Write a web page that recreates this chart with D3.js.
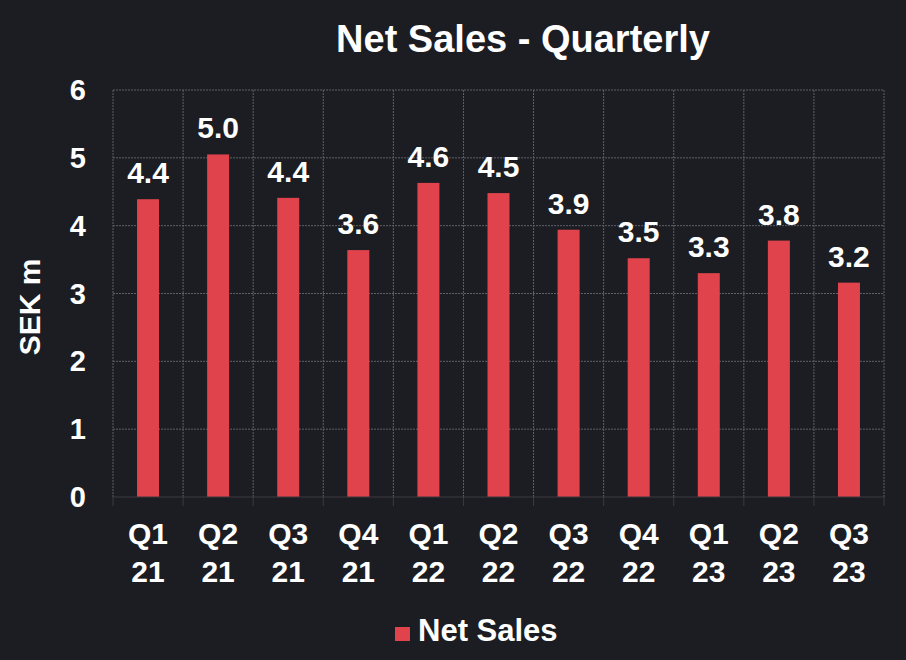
<!DOCTYPE html>
<html><head><meta charset="utf-8">
<script src="https://cdn.jsdelivr.net/npm/d3@7"></script>
<style>html,body{margin:0;padding:0;background:#1c1d22;}svg{display:block;font-family:"Liberation Sans",Arial,sans-serif;font-weight:bold;}</style>
</head><body>
<script>
const quarters = ["Q1","Q2","Q3","Q4","Q1","Q2","Q3","Q4","Q1","Q2","Q3"];
const years = ["21","21","21","21","22","22","22","22","23","23","23"];
const netSales = [4.39, 5.05, 4.41, 3.64, 4.63, 4.48, 3.94, 3.52, 3.30, 3.78, 3.16];
const valueLabels = ["4.4","5.0","4.4","3.6","4.6","4.5","3.9","3.5","3.3","3.8","3.2"];
const yTicks = [0,1,2,3,4,5,6];

const W=906,H=660;
const m={l:113,r:884,t:90,b:497};
const svg=d3.select("body").append("svg").attr("width",W).attr("height",H);
svg.append("rect").attr("width",W).attr("height",H).attr("fill","#1c1d22");
const keys=d3.range(netSales.length);
const x=d3.scaleBand().domain(keys).range([m.l,m.r]).paddingInner(0).paddingOuter(0);
const y=d3.scaleLinear().domain([0,6]).range([m.b,m.t]);
const grid="#5f6168";
svg.append("g").selectAll("line").data(yTicks.filter(d=>d>0)).join("line")
 .attr("x1",m.l).attr("x2",m.r).attr("y1",d=>y(d)).attr("y2",d=>y(d))
 .attr("stroke",grid).attr("stroke-width",1).attr("stroke-dasharray","2,1");
const bounds=keys.map(k=>x(k)).concat([m.r]);
svg.append("g").selectAll("line").data(bounds).join("line")
 .attr("x1",d=>d).attr("x2",d=>d).attr("y1",m.t).attr("y2",m.b)
 .attr("stroke",grid).attr("stroke-width",1).attr("stroke-dasharray","2,1");
svg.append("g").selectAll("line").data(bounds).join("line")
 .attr("x1",d=>d).attr("x2",d=>d).attr("y1",m.b).attr("y2",m.b+9)
 .attr("stroke","#3a3b40").attr("stroke-width",1);
const bw=22;
svg.append("g").selectAll("rect").data(netSales).join("rect")
 .attr("x",(d,i)=>x(i)+x.bandwidth()/2-bw/2).attr("width",bw)
 .attr("y",d=>y(d)).attr("height",d=>y(0)-y(d)).attr("fill","#e0434b");
svg.append("line").attr("x1",m.l).attr("x2",m.r).attr("y1",m.b).attr("y2",m.b).attr("stroke","#3a3b40").attr("stroke-width",1);
svg.append("g").selectAll("text").data(netSales).join("text")
 .attr("x",(d,i)=>x(i)+x.bandwidth()/2).attr("y",d=>y(d)-16)
 .attr("text-anchor","middle").attr("fill","#fff").attr("font-size",30)
 .text((d,i)=>valueLabels[i]);
svg.append("g").selectAll("text").data(yTicks).join("text")
 .attr("x",86).attr("y",d=>y(d)+10).attr("text-anchor","end").attr("fill","#fff").attr("font-size",29)
 .text(d=>d);
const xl=svg.append("g").selectAll("text").data(keys).join("text")
 .attr("text-anchor","middle").attr("fill","#fff").attr("font-size",30);
xl.append("tspan").attr("x",k=>x(k)+x.bandwidth()/2).attr("y",544).text(k=>quarters[k]);
xl.append("tspan").attr("x",k=>x(k)+x.bandwidth()/2).attr("y",582).text(k=>years[k]);
svg.append("text").attr("transform","translate(40,307) rotate(-90)").attr("text-anchor","middle")
 .attr("fill","#fff").attr("font-size",30).text("SEK m");
svg.append("text").attr("x",523).attr("y",52).attr("text-anchor","middle").attr("fill","#fff").attr("font-size",38).text("Net Sales - Quarterly");
svg.append("rect").attr("x",395).attr("y",627).attr("width",15).attr("height",14).attr("fill","#e0434b");
svg.append("text").attr("x",418).attr("y",641).attr("fill","#fff").attr("font-size",31).text("Net Sales");
</script>
</body></html>
